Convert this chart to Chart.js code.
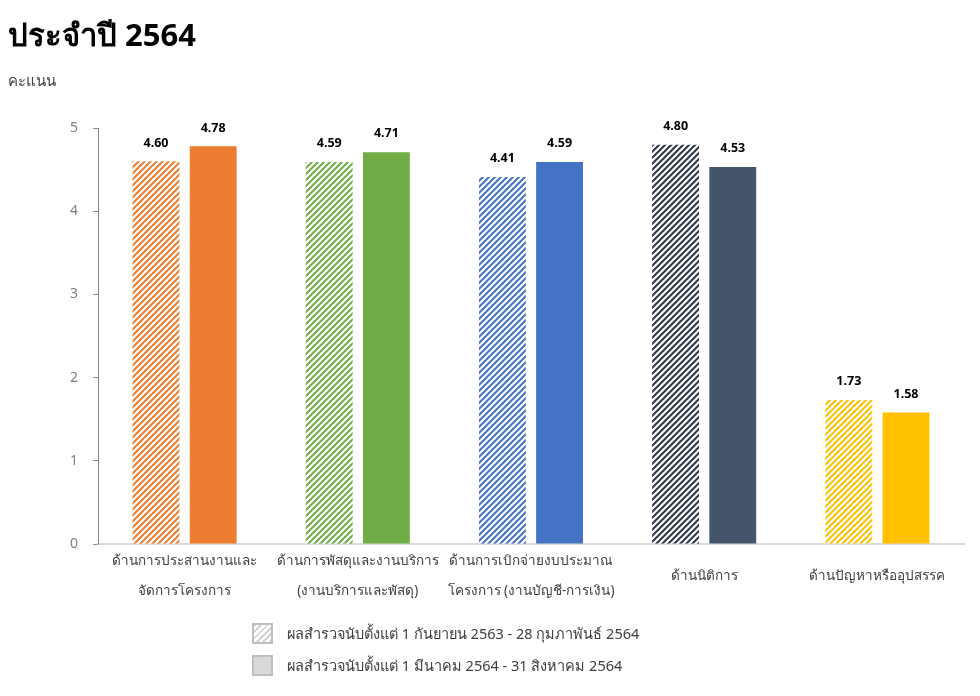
<!DOCTYPE html>
<html>
<head>
<meta charset="utf-8">
<script src="https://cdn.jsdelivr.net/npm/chart.js@4.4.1/dist/chart.umd.min.js"></script>
<style>
  body { margin: 0; background: #fff; font-family: Tahoma, "Noto Sans", "DejaVu Sans", sans-serif; }
  #wrap { position: relative; width: 980px; height: 696px; overflow: hidden; }
  #chart { position: absolute; left: 0; top: 0; }
  #title { position: absolute; left: 8px; top: 14px; margin: 0; font-size: 31px; font-weight: bold; color: #000; line-height: 40px; }
  #unit { position: absolute; left: 8px; top: 70px; font-size: 15px; color: #404040; line-height: 20px; }
  #legend { position: absolute; left: 252px; top: 622px; font-size: 14.5px; color: #404040; }
  .row { display: flex; align-items: center; height: 22px; margin-bottom: 10px; }
  .box { width: 17px; height: 17px; border: 2px solid #bfbfbf; margin-right: 14px; }
  .box.hatch { background: repeating-linear-gradient(-45deg, #d4d4d4 0 2px, #fff 2px 4.5px); }
  .box.solid { background: #d9d9d9; }
</style>
</head>
<body>
<div id="wrap">
  <canvas id="chart" width="980" height="696"></canvas>
  <h1 id="title">ประจำปี 2564</h1>
  <div id="unit">คะแนน</div>
  <div id="legend"></div>
</div>
<script>
// ข้อมูลกราฟ
const categories = [
  ['ด้านการประสานงานและ', 'จัดการโครงการ'],
  ['ด้านการพัสดุและงานบริการ', '(งานบริการและพัสดุ)'],
  ['ด้านการเบิกจ่ายงบประมาณ', 'โครงการ (งานบัญชี-การเงิน)'],
  'ด้านนิติการ',
  'ด้านปัญหาหรืออุปสรรค'
];
const seriesNames = [
  'ผลสำรวจนับตั้งแต่ 1 กันยายน 2563 - 28 กุมภาพันธ์ 2564',
  'ผลสำรวจนับตั้งแต่ 1 มีนาคม 2564 - 31 สิงหาคม 2564'
];
const round1 = [4.60, 4.59, 4.41, 4.80, 1.73];
const round2 = [4.78, 4.71, 4.59, 4.53, 1.58];
const yMax = 5;

const barColors = ['#ED7D31', '#70AD47', '#4472C4', '#44546A', '#FFC000'];
const hatchColors = ['#ED7D31', '#70AD47', '#4472C4', '#2B3648', '#FFC000'];

// ลายเส้นทแยงสำหรับรอบแรก
function hatch(color) {
  const c = document.createElement('canvas');
  c.width = 6; c.height = 6;
  const g = c.getContext('2d');
  g.fillStyle = '#fff';
  g.fillRect(0, 0, 6, 6);
  g.strokeStyle = color;
  g.lineWidth = 2;
  g.beginPath();
  g.moveTo(0, 6); g.lineTo(6, 0);
  g.moveTo(-1, 1); g.lineTo(1, -1);
  g.moveTo(5, 7); g.lineTo(7, 5);
  g.stroke();
  return g.createPattern(c, 'repeat');
}

// ตัวเลขบนแท่ง
const valueLabels = {
  id: 'valueLabels',
  afterDatasetsDraw(chart) {
    const ctx = chart.ctx;
    ctx.save();
    ctx.font = 'bold 12.5px Tahoma, "Noto Sans", sans-serif';
    ctx.fillStyle = '#000';
    ctx.textAlign = 'center';
    ctx.textBaseline = 'bottom';
    chart.data.datasets.forEach((ds, i) => {
      chart.getDatasetMeta(i).data.forEach((bar, j) => {
        ctx.fillText(ds.data[j].toFixed(2), bar.x, bar.y - 12);
      });
    });
    ctx.restore();
  }
};

new Chart(document.getElementById('chart').getContext('2d'), {
  type: 'bar',
  data: {
    labels: categories,
    datasets: [{
      label: seriesNames[0],
      data: round1,
      backgroundColor: hatchColors.map(hatch),
      borderWidth: 0
    }, {
      label: seriesNames[1],
      data: round2,
      backgroundColor: barColors,
      borderWidth: 0
    }]
  },
  options: {
    responsive: false,
    animation: false,
    devicePixelRatio: 1,
    categoryPercentage: 0.66,
    barPercentage: 0.82,
    layout: { padding: { left: 0, top: 128, right: 16, bottom: 72 } },
    plugins: { legend: { display: false }, tooltip: { enabled: false } },
    scales: {
      x: {
        grid: { display: false, drawTicks: false },
        border: { display: true, color: '#d9d9d9', width: 2 },
        ticks: {
          color: '#404040',
          padding: 17,
          maxRotation: 0,
          autoSkip: false,
          crossAlign: 'center',
          font: { family: 'Tahoma, "Noto Sans", sans-serif', size: 13.5, lineHeight: 2.25 }
        },
        afterFit(scale) { scale.height = 80; }
      },
      y: {
        min: 0,
        max: yMax,
        grid: { display: true, drawOnChartArea: false, drawTicks: true, tickLength: 5, color: '#8c8c8c' },
        border: { display: true, color: '#8c8c8c', width: 1 },
        ticks: {
          stepSize: 1,
          color: '#7f7f7f',
          padding: 15,
          font: { family: 'Tahoma, "Noto Sans", sans-serif', size: 14 }
        },
        afterFit(scale) { scale.width = 98; }
      }
    }
  },
  plugins: [valueLabels]
});

// คำอธิบายสัญลักษณ์
const legend = document.getElementById('legend');
seriesNames.forEach((name, i) => {
  const row = document.createElement('div');
  row.className = 'row';
  const box = document.createElement('span');
  box.className = 'box ' + (i === 0 ? 'hatch' : 'solid');
  const txt = document.createElement('span');
  txt.textContent = name;
  row.appendChild(box);
  row.appendChild(txt);
  legend.appendChild(row);
});
</script>
</body>
</html>
